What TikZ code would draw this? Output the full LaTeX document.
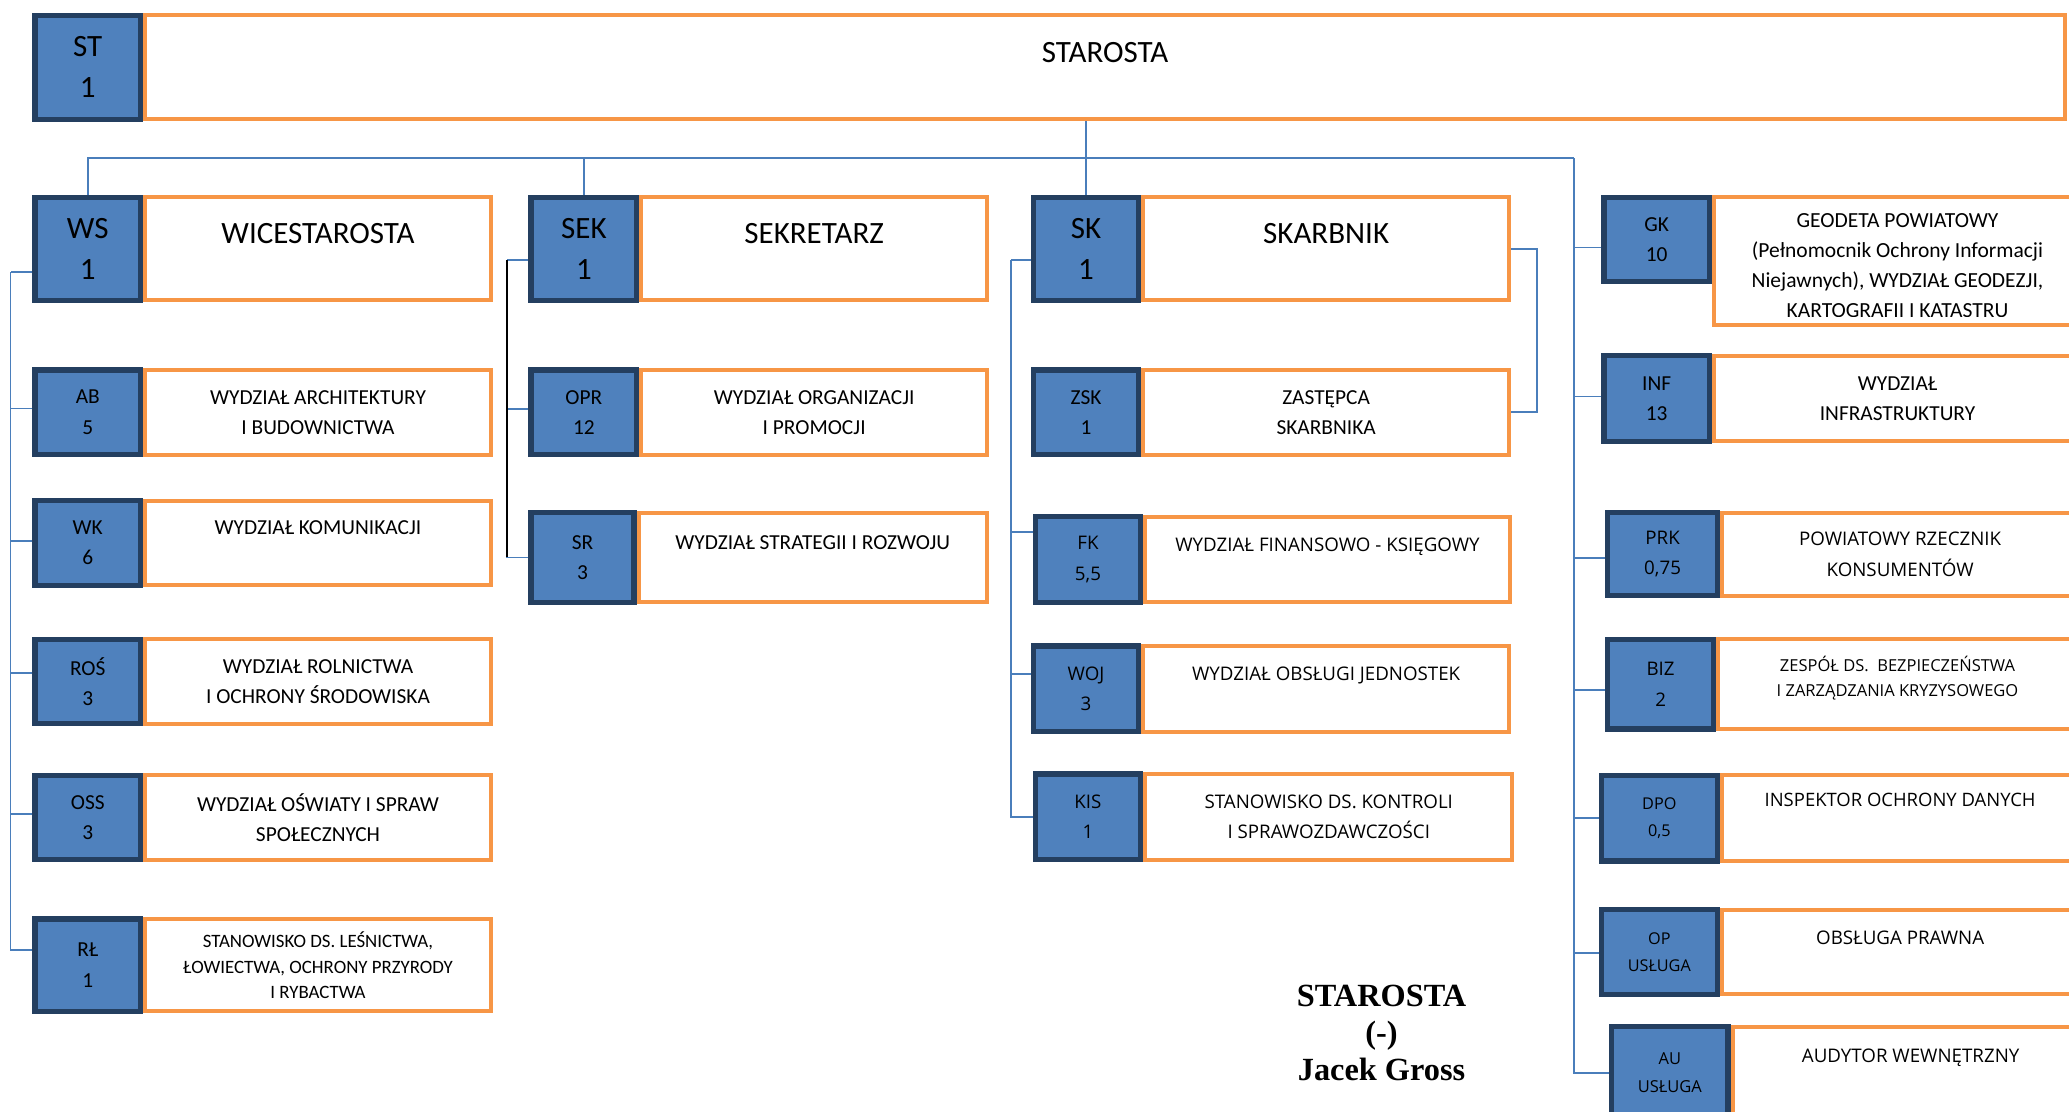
\documentclass[tikz,border=0pt]{standalone}
\usepackage{fontspec}
\setmainfont{Carlito}
\newfontfamily\widefont{Open Sans}
\newfontfamily\signfont{Liberation Serif}
\usetikzlibrary{positioning}
\definecolor{codefill}{HTML}{4F81BD}
\definecolor{codeline}{HTML}{243F60}
\definecolor{deptline}{HTML}{F79646}
\definecolor{connblue}{HTML}{4A7EBB}
\newcommand\setfs[2]{\fontsize{#1}{#2}\selectfont}

\begin{document}
\begin{tikzpicture}[x=1pt, y=-1pt,
    code/.style={draw=codeline, fill=codefill, line width=4pt, align=center,
      inner sep=0pt, minimum width=80pt},
    dept/.style={draw=deptline, fill=white, line width=3pt, align=center,
      inner sep=0pt, minimum width=262pt},
    conn/.style={draw=connblue, line width=1.3pt},
    bigcode/.style={font=\setfs{23.5}{31}},
    bigdept/.style={font=\setfs{23.5}{23}},
    smalltxt/.style={font=\setfs{16.2}{23}},
    widetxt/.style={font=\widefont\setfs{14.2}{23}}]
    \clip (0,0) rectangle (1568,842);

    % starosta
    \node[code, bigcode, minimum height=79pt] (st) at (66.5,51) {ST\\1};
    \node[dept, bigdept, minimum height=79pt, minimum width=1455pt, right=0pt of st] (std) {STAROSTA\\\mbox{}};

    % wicestarosta
    \node[code, bigcode, minimum height=78pt] (ws) at (66.5,188.5) {WS\\1};
    \node[dept, bigdept, minimum height=78pt, right=0pt of ws] (wsd) {WICESTAROSTA\\\mbox{}};
    \node[code, smalltxt, minimum height=64pt] (ab) at (66.5,312.5) {AB\\5};
    \node[dept, smalltxt, minimum height=64pt, right=0pt of ab] (abd) {WYDZIAŁ ARCHITEKTURY\\I BUDOWNICTWA};
    \node[code, smalltxt, minimum height=64pt] (wk) at (66.5,411.5) {WK\\6};
    \node[dept, smalltxt, minimum height=64pt, right=0pt of wk] (wkd) {WYDZIAŁ KOMUNIKACJI\\\mbox{}};
    \node[code, smalltxt, minimum height=64pt] (ros) at (66.5,516.5) {ROŚ\\3};
    \node[dept, smalltxt, minimum height=64pt, right=0pt of ros] (rosd) {WYDZIAŁ ROLNICTWA\\I OCHRONY ŚRODOWISKA};
    \node[code, smalltxt, minimum height=64pt] (oss) at (66.5,619.5) {OSS\\3};
    \node[dept, smalltxt, minimum height=64pt, right=0pt of oss] (ossd) {WYDZIAŁ OŚWIATY I SPRAW\\SPOŁECZNYCH};
    \node[code, smalltxt, minimum height=70pt] (rl) at (66.5,731.5) {RŁ\\1};
    \node[dept, font=\setfs{14.3}{19.5}, minimum height=70pt, right=0pt of rl] (rld) {STANOWISKO DS. LEŚNICTWA,\\ŁOWIECTWA, OCHRONY PRZYRODY\\I RYBACTWA};

    % sekretarz
    \node[code, bigcode, minimum height=78pt] (sek) at (442.5,188.5) {SEK\\1};
    \node[dept, bigdept, minimum height=78pt, right=0pt of sek] (sekd) {SEKRETARZ\\\mbox{}};
    \node[code, smalltxt, minimum height=64pt] (opr) at (442.5,312.5) {OPR\\12};
    \node[dept, smalltxt, minimum height=64pt, right=0pt of opr] (oprd) {WYDZIAŁ ORGANIZACJI\\I PROMOCJI};
    \node[code, smalltxt, minimum height=68pt, minimum width=78pt] (sr) at (441.5,422.5) {SR\\3};
    \node[dept, smalltxt, minimum height=68pt, minimum width=264pt, right=0pt of sr] (srd) {WYDZIAŁ STRATEGII I ROZWOJU\\\mbox{}};

    % skarbnik
    \node[code, bigcode, minimum height=78pt] (sk) at (823,188.5) {SK\\1};
    \node[dept, bigdept, minimum height=78pt, minimum width=277pt, right=0pt of sk] (skd) {SKARBNIK\\\mbox{}};
    \node[code, smalltxt, minimum height=64pt] (zsk) at (823,312.5) {ZSK\\1};
    \node[dept, smalltxt, minimum height=64pt, minimum width=277pt, right=0pt of zsk] (zskd) {ZASTĘPCA\\SKARBNIKA};
    \node[code, widetxt, minimum height=65pt] (fk) at (824.5,424) {FK\\5,5};
    \node[dept, widetxt, minimum height=65pt, minimum width=276pt, right=0pt of fk] (fkd) {WYDZIAŁ FINANSOWO - KSIĘGOWY\\\mbox{}};
    \node[code, widetxt, minimum height=65pt] (woj) at (823,522) {WOJ\\3};
    \node[dept, widetxt, minimum height=65pt, minimum width=277pt, right=0pt of woj] (wojd) {WYDZIAŁ OBSŁUGI JEDNOSTEK\\\mbox{}};
    \node[code, widetxt, minimum height=65pt] (kis) at (824.5,619) {KIS\\1};
    \node[dept, widetxt, minimum height=65pt, minimum width=278pt, right=0pt of kis] (kisd) {STANOWISKO DS. KONTROLI\\I SPRAWOZDAWCZOŚCI};

    % samodzielne stanowiska
    \node[code, smalltxt, minimum height=64pt] (gk) at (1255.5,181.5) {GK\\10};
    \node[dept, minimum height=97pt, minimum width=278pt, anchor=north west] (gkd) at (gk.north east) {};
    \begin{scope}
      \clip ([shift={(3,-8)}]gkd.south west) rectangle ([shift={(-3,3)}]gkd.north east);
      \node[font=\setfs{16.3}{22.7}, align=center, anchor=north] (gkt) at ([yshift=-11pt]gkd.north) {GEODETA POWIATOWY\\(Pełnomocnik Ochrony Informacji\\Niejawnych), WYDZIAŁ GEODEZJI,\\KARTOGRAFII I KATASTRU};
    \end{scope}
    \node[code, smalltxt, minimum height=65pt] (inf) at (1255.5,302) {INF\\13};
    \node[dept, smalltxt, minimum height=65pt, minimum width=278pt, right=0pt of inf] (infd) {WYDZIAŁ\\INFRASTRUKTURY};
    \node[code, widetxt, minimum height=63pt, minimum width=83pt] (prk) at (1260,420) {PRK\\0,75};
    \node[dept, widetxt, minimum height=63pt, minimum width=270pt, right=0pt of prk] (prkd) {POWIATOWY RZECZNIK\\KONSUMENTÓW};
    \node[code, widetxt, minimum height=68pt] (biz) at (1258.5,518.5) {BIZ\\2};
    \node[dept, font=\widefont\setfs{12.5}{19}, text depth=12pt, minimum height=68pt, minimum width=272pt, right=0pt of biz] (bizd) {ZESPÓŁ DS.\ \ BEZPIECZEŃSTWA\\I ZARZĄDZANIA KRYZYSOWEGO};
    \node[code, font=\widefont\setfs{12.3}{20}, minimum height=65pt, minimum width=88pt] (dpo) at (1257.5,620) {DPO\\0,5};
    \node[dept, font=\widefont\setfs{14}{27}, minimum height=65pt, minimum width=270pt, right=0pt of dpo] (dpod) {INSPEKTOR OCHRONY DANYCH\\\mbox{}};
    \node[code, font=\widefont\setfs{12.3}{20}, minimum height=64pt, minimum width=88pt] (op) at (1257.5,721.5) {OP\\USŁUGA};
    \node[dept, font=\widefont\setfs{14.2}{22}, minimum height=64pt, minimum width=270pt, right=0pt of op] (opd) {OBSŁUGA PRAWNA\\\mbox{}};
    \node[code, font=\widefont\setfs{12.5}{21}, minimum height=70pt, minimum width=88pt] (au) at (1265.5,813) {AU\\USŁUGA};
    \node[dept, font=\widefont\setfs{14.2}{26}, minimum height=70pt, minimum width=270pt, right=0pt of au] (aud) {AUDYTOR WEWNĘTRZNY\\\mbox{}};

    \node[font=\signfont\bfseries\setfs{24.5}{28}, align=center] (sign) at (1047,783) {STAROSTA\\(-)\\Jacek Gross};

    % polaczenia
    \coordinate (rbus) at (1193,120);
    \coordinate (lbus) at (8,206);
    \coordinate (sbus) at (384,197);
    \coordinate (kbus) at (766,197);
    \draw[conn] (sk.north |- std.south) -- (sk.north);
    \draw[conn] (ws.north) |- (rbus);
    \draw[conn] (sek.north) -- (sek.north |- rbus);
    \foreach \n/\s in {ws/-17.5, ab/3, wk/1.5, ros/6.5, oss/2.5, rl/11.5}
      \draw[conn] ([yshift=\s pt]\n.west) -| (lbus);
    \foreach \n/\s in {sek/-8.5, opr/2.5, sr/0}
      \draw[conn] ([yshift=\s pt]\n.west) -| (sbus);
    \draw[line width=1.3pt] (sbus) -- (sbus |- sr.west);
    \foreach \n/\s in {sk/-8.5, fk/21, woj/11, kis/0}
      \draw[conn] ([yshift=\s pt]\n.west) -| (kbus);
    \draw[conn] (skd.east) -- ++(20,0) |- (zskd.east);
    \foreach \n/\s in {gk/-6, inf/1.5, prk/-3, biz/-4.5, dpo/0, op/-0.5, au/0}
      \draw[conn] ([yshift=\s pt]\n.west) -| (rbus);
  \end{tikzpicture}
\end{document}
